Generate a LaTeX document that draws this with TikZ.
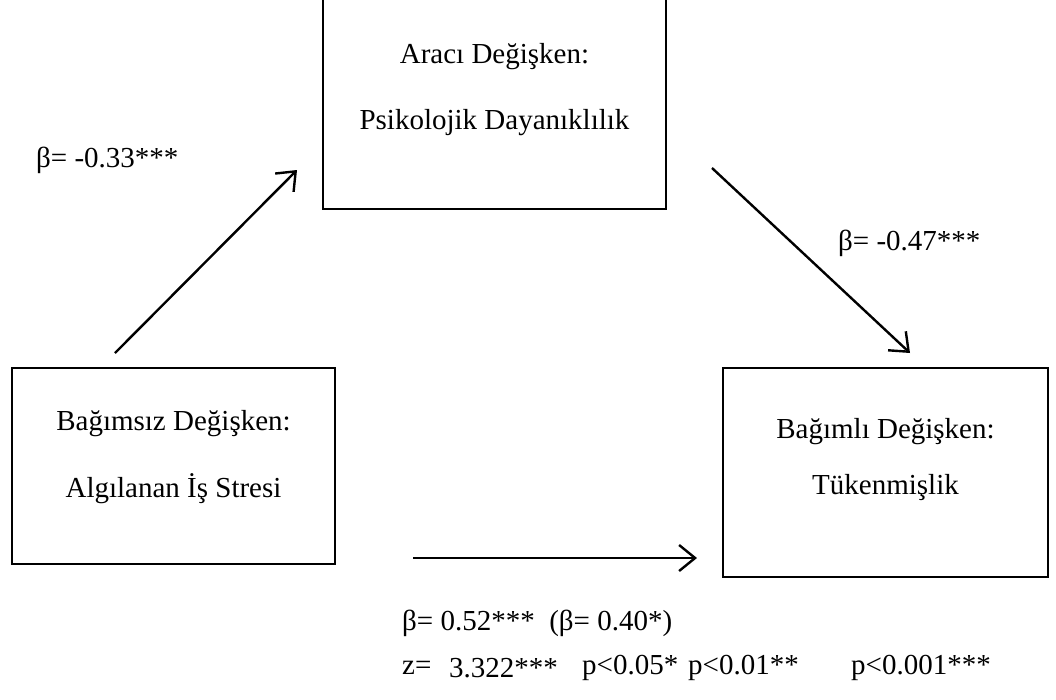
\documentclass[tikz,border=0pt]{standalone}
\usepackage{fontspec}
\setmainfont{Liberation Serif}
\usetikzlibrary{arrows.meta, positioning}

\begin{document}
\begin{tikzpicture}[x=1pt, y=-1pt,
    varbox/.style={draw, line width=1.4pt, inner sep=0pt},
    boxtext/.style={font=\fontsize{29}{66}\selectfont, align=center, inner sep=0pt},
    coef/.style={font=\fontsize{29}{35}\selectfont, anchor=west, inner sep=0pt},
    effect/.style={line width=2.4pt,
      -{Straight Barb[length=16pt, width=26pt, line width=2.4pt]}}]
  \useasboundingbox (0,0) rectangle (1056,699);

  % Variable boxes
  \node[varbox, minimum width=343pt, minimum height=240pt] (med) at (494.5, 89) {};
  \node[varbox, minimum width=323pt, minimum height=196pt] (iv) at (173.5, 466) {};
  \node[varbox, minimum width=325pt, minimum height=209pt] (dv) at (885.5, 472.5) {};

  % Box texts
  \node[boxtext] (medtext) at (494.5, 90) {Aracı Değişken:\\Psikolojik Dayanıklılık};
  \node[boxtext, font=\fontsize{29}{67}\selectfont] (ivtext) at (173.5, 457.5)
    {Bağımsız Değişken:\\Algılanan İş Stresi};
  \node[boxtext, font=\fontsize{29}{56}\selectfont] (dvtext) at (885.5, 460)
    {Bağımlı Değişken:\\Tükenmişlik};

  % Paths
  \coordinate (ivmedstart) at (115, 353);
  \coordinate (ivmedend) at (297, 170);
  \coordinate (meddvstart) at (712, 168);
  \coordinate (meddvend) at (910, 353);
  \coordinate (ivdvstart) at (413, 558);
  \coordinate (ivdvend) at (697, 558);
  \draw[effect] (ivmedstart) -- (ivmedend);
  \draw[effect] (meddvstart) -- (meddvend);
  \draw[effect] (ivdvstart) -- (ivdvend);

  % Coefficients
  \node[coef] (acoef) at (36, 160) {β= -0.33***};
  \node[coef] (bcoef) at (838, 243) {β= -0.47***};
  \node[coef] (ccoef) at (402, 623) {β= 0.52***\ \ (β= 0.40*)};
  \node[coef] (zlabel) at (402, 668) {z=};
  \node[coef] (zvalue) at (449, 668) {3.322***};
  \foreach \i/\x/\txt in {1/582/{p<0.05*}, 2/688/{p<0.01**}, 3/851/{p<0.001***}}{
    \node[coef] (plevel\i) at (\x, 668) {\txt};
  }
\end{tikzpicture}
\end{document}
